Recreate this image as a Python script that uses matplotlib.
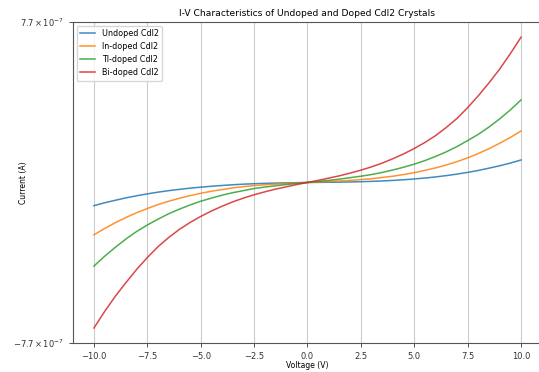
import matplotlib
matplotlib.use("Agg")
import matplotlib.pyplot as plt
import numpy as np

# Voltage grid (V), 0.5 V steps, and currents (units of 1e-7 A)
voltage = np.arange(-10, 10.5, 0.5)

undoped = [-1.113, -0.974, -0.854, -0.739, -0.638, -0.547, -0.465, -0.393, -0.331, -0.273,
           -0.225, -0.182, -0.144, -0.110, -0.082, -0.060, -0.043, -0.029, -0.019, -0.010,
           0.0,
           0.004, 0.010, 0.016, 0.025, 0.037, 0.053, 0.073, 0.098, 0.129, 0.167,
           0.213, 0.266, 0.329, 0.401, 0.483, 0.577, 0.686, 0.801, 0.931, 1.079]
in_doped = [-2.51, -2.21, -1.93, -1.68, -1.45, -1.25, -1.06, -0.90, -0.76, -0.63,
            -0.52, -0.42, -0.34, -0.26, -0.20, -0.15, -0.11, -0.08, -0.05, -0.02,
            0.0,
            0.02, 0.05, 0.07, 0.10, 0.14, 0.18, 0.24, 0.30, 0.38, 0.47,
            0.58, 0.70, 0.84, 1.00, 1.18, 1.39, 1.62, 1.88, 2.16, 2.47]
tl_doped = [-4.01, -3.54, -3.11, -2.71, -2.35, -2.04, -1.76, -1.50, -1.28, -1.08,
            -0.90, -0.75, -0.61, -0.49, -0.39, -0.29, -0.22, -0.16, -0.10, -0.05,
            0.0,
            0.05, 0.10, 0.16, 0.23, 0.30, 0.38, 0.48, 0.60, 0.73, 0.88,
            1.05, 1.25, 1.47, 1.72, 2.01, 2.31, 2.66, 3.05, 3.48, 3.96]
bi_doped = [-6.98, -6.19, -5.46, -4.80, -4.17, -3.60, -3.08, -2.64, -2.25, -1.92,
            -1.63, -1.37, -1.14, -0.93, -0.75, -0.59, -0.45, -0.32, -0.21, -0.10,
            0.0,
            0.10, 0.21, 0.32, 0.45, 0.59, 0.75, 0.93, 1.14, 1.37, 1.63,
            1.92, 2.25, 2.64, 3.07, 3.59, 4.16, 4.78, 5.44, 6.18, 6.97]

series = {
    "Undoped CdI2": undoped,
    "In-doped CdI2": in_doped,
    "Tl-doped CdI2": tl_doped,
    "Bi-doped CdI2": bi_doped,
}
colors = ["#1f77b4", "#ff7f0e", "#2ca02c", "#d62728"]
y_limit = 7.7e-7

fig = plt.figure(figsize=(5.39, 3.72), dpi=100)
ax = fig.add_axes([0.1347, 0.078, 0.8716, 0.863])

for (label, values), color in zip(series.items(), colors):
    ax.plot(voltage, np.array(values) * 1e-7, color=color, linewidth=1.1,
            alpha=0.85, label=label)

ax.set_xlim(-11, 11)
ax.set_ylim(-y_limit, y_limit)
ax.set_xticks([-10, -7.5, -5, -2.5, 0, 2.5, 5, 7.5, 10])
ax.set_xticklabels(["−10.0", "−7.5", "−5.0", "−2.5", "0.0", "2.5", "5.0", "7.5", "10.0"])
ax.set_yticks([-y_limit, y_limit])
ax.set_yticklabels([r"$\mathdefault{-7.7\times10^{-7}}$", r"$\mathdefault{7.7\times10^{-7}}$"])
ax.tick_params(labelsize=6, length=3, width=0.6, colors="#333333")
ax.grid(axis="x", color="#cccccc", linewidth=0.8)

for side in ["left", "bottom", "top"]:
    ax.spines[side].set_color("#555555")
    ax.spines[side].set_linewidth(0.8)
ax.spines["right"].set_visible(False)

ax.set_title("I-V Characteristics of Undoped and Doped CdI2 Crystals", fontsize=6.6, pad=4)
ax.set_xlabel("Voltage (V)", fontsize=5.5)
ax.set_ylabel("Current (A)", fontsize=5.5)
ax.xaxis.set_label_coords(0.5, -0.055)
ax.yaxis.set_label_coords(-0.095, 0.5)
ax.legend(loc="upper left", fontsize=5.8, handlelength=1.9, framealpha=0.8)

fig.savefig("out.png", dpi=100)
